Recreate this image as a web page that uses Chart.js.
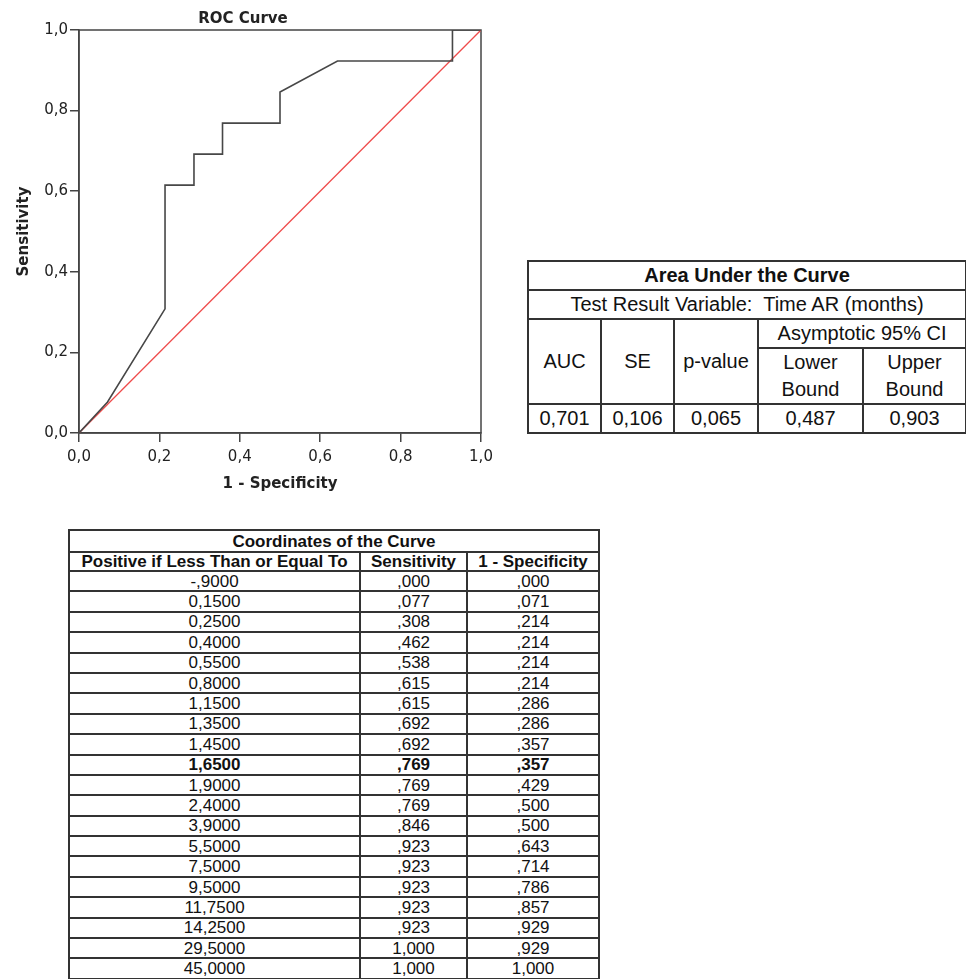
<!DOCTYPE html>
<html>
<head>
<meta charset="utf-8">
<script src="https://cdn.jsdelivr.net/npm/chart.js@4.4.1/dist/chart.umd.min.js"></script>
<style>
    body { margin: 0; background: #fff; width: 966px; height: 979px; position: relative; overflow: hidden; }
    #chartBox { position: absolute; left: 0; top: 0; width: 500px; height: 500px; }
    table { position: absolute; border-collapse: collapse; table-layout: fixed; font-family: "Liberation Sans", Arial, sans-serif; color: #111; }
    td { border: 2px solid #333; text-align: center; padding: 0; white-space: nowrap; overflow: hidden; }
    #aucTable { left: 527px; top: 260px; width: 438px; font-size: 20px; }
    #aucTable td { line-height: 27px; }
    #coordTable { left: 68px; top: 529px; width: 530px; font-size: 17px; }
    #coordTable td { line-height: 1; }
    .b { font-weight: bold; }
</style>
</head>
<body>
<div id="chartBox"><canvas id="roc" width="500" height="500"></canvas></div>
<table id="aucTable"></table>
<table id="coordTable"></table>
<script>
// coordinates of the curve
const thresholds = ['-,9000', '0,1500', '0,2500', '0,4000', '0,5500', '0,8000', '1,1500', '1,3500', '1,4500', '1,6500',
    '1,9000', '2,4000', '3,9000', '5,5000', '7,5000', '9,5000', '11,7500', '14,2500', '29,5000', '45,0000'];
const sensitivity = [0, .077, .308, .462, .538, .615, .615, .692, .692, .769,
    .769, .769, .846, .923, .923, .923, .923, .923, 1, 1];
const oneMinusSpec = [0, .071, .214, .214, .214, .214, .286, .286, .357, .357,
    .429, .5, .5, .643, .714, .786, .857, .929, .929, 1];
const boldRow = 9;

// reference diagonal
const refX = [0, 1];
const refY = [0, 1];
const axisTicks = [0, 0.2, 0.4, 0.6, 0.8, 1];

// area under the curve
const aucLabels = ['AUC', 'SE', 'p-value'];
const ciLabels = ['Lower<br>Bound', 'Upper<br>Bound'];
const aucValues = [0.701, 0.106, 0.065, 0.487, 0.903];

function comma(v, d) { return v.toFixed(d).replace('.', ','); }
function shortComma(v) { return comma(v, 3).replace(/^0,/, ','); }

// AUC table
const aucRows = [
    '<col style="width:73px"><col style="width:73px"><col style="width:84px"><col style="width:105px"><col style="width:103px">',
    '<tr style="height:28px"><td colspan="5" class="b">Area Under the Curve</td></tr>',
    '<tr style="height:28px"><td colspan="5">Test Result Variable:&nbsp; Time AR (months)</td></tr>',
    '<tr style="height:28px">' + aucLabels.map(l => '<td rowspan="2">' + l + '</td>').join('') + '<td colspan="2">Asymptotic 95% CI</td></tr>',
    '<tr style="height:55px">' + ciLabels.map(l => '<td>' + l + '</td>').join('') + '</tr>',
    '<tr style="height:29px">' + aucValues.map(v => '<td>' + comma(v, 3) + '</td>').join('') + '</tr>'
];
document.getElementById('aucTable').innerHTML = aucRows.join('');

// coordinates table
let coordHtml = '<col style="width:291px"><col style="width:107px"><col style="width:132px">';
coordHtml += '<tr style="height:22px"><td colspan="3" class="b">Coordinates of the Curve</td></tr>';
coordHtml += '<tr style="height:19px"><td class="b">Positive if Less Than or Equal To</td><td class="b">Sensitivity</td><td class="b">1 - Specificity</td></tr>';
thresholds.forEach((t, i) => {
    const cls = i === boldRow ? ' class="b"' : '';
    coordHtml += '<tr style="height:20.4px"><td' + cls + '>' + t + '</td><td' + cls + '>' + shortComma(sensitivity[i]) +
        '</td><td' + cls + '>' + shortComma(oneMinusSpec[i]) + '</td></tr>';
});
document.getElementById('coordTable').innerHTML = coordHtml;

// frame round the plot area
const frame = {
    id: 'frame',
    beforeDatasetsDraw(chart) {
        const a = chart.chartArea;
        const c = chart.ctx;
        c.save();
        c.strokeStyle = '#444';
        c.lineWidth = 1.5;
        c.strokeRect(a.left, a.top, a.right - a.left, a.bottom - a.top);
        c.restore();
    }
};

const tickFont = { family: 'DejaVu Sans', size: 15 };
const titleFont = { family: 'DejaVu Sans', size: 15, weight: 'bold' };

new Chart(document.getElementById('roc').getContext('2d'), {
    type: 'scatter',
    data: {
        datasets: [
            {
                data: oneMinusSpec.map((x, i) => ({ x: x, y: sensitivity[i] })),
                showLine: true,
                borderColor: '#474747',
                borderWidth: 1.6,
                pointRadius: 0
            },
            {
                data: refX.map((x, i) => ({ x: x, y: refY[i] })),
                showLine: true,
                borderColor: '#ef4b4b',
                borderWidth: 1.3,
                pointRadius: 0
            }
        ]
    },
    options: {
        responsive: false,
        animation: false,
        layout: { padding: { left: 5, right: 19, top: 0, bottom: 0 } },
        plugins: {
            legend: { display: false },
            tooltip: { enabled: false },
            title: { display: true, text: 'ROC Curve', color: '#222', font: titleFont, padding: { top: 10, bottom: 2 } }
        },
        scales: {
            x: {
                type: 'linear', min: 0, max: 1,
                afterFit: s => { s.height = 67; },
                afterBuildTicks: s => { s.ticks = axisTicks.map(v => ({ value: v })); },
                ticks: { callback: v => comma(v, 1), color: '#222', font: tickFont, padding: 6, maxRotation: 0 },
                grid: { drawOnChartArea: false, drawTicks: true, tickLength: 9, color: '#444', lineWidth: 1.5 },
                border: { display: true, color: '#444', width: 1.5 },
                title: { display: true, text: '1 - Specificity', color: '#222', font: titleFont, padding: { top: 0, bottom: 7 } }
            },
            y: {
                type: 'linear', min: 0, max: 1,
                afterFit: s => { s.width = 74; },
                afterBuildTicks: s => { s.ticks = axisTicks.map(v => ({ value: v })); },
                ticks: { callback: v => comma(v, 1), color: '#222', font: tickFont, padding: 2 },
                grid: { drawOnChartArea: false, drawTicks: true, tickLength: 9, color: '#444', lineWidth: 1.5 },
                border: { display: true, color: '#444', width: 1.5 },
                title: { display: true, text: 'Sensitivity', color: '#222', font: titleFont, padding: { top: 10, bottom: 0 } }
            }
        }
    },
    plugins: [frame]
});
</script>
</body>
</html>
